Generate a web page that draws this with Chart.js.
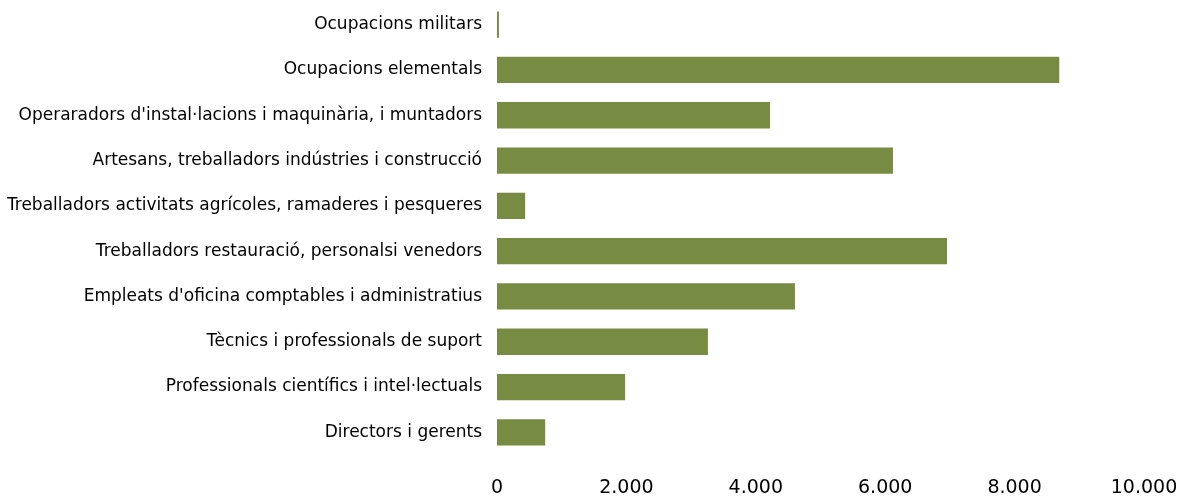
<!DOCTYPE html>
<html>
<head>
<meta charset="utf-8">
<script src="https://cdn.jsdelivr.net/npm/chart.js@4/dist/chart.umd.min.js"></script>
<style>
  html, body { margin: 0; padding: 0; background: #fff; }
  #wrap { width: 1181px; height: 496px; }
</style>
</head>
<body>
<div id="wrap"><canvas id="chart" width="1181" height="496"></canvas></div>
<script>
var categories = [
    'Ocupacions militars',
    'Ocupacions elementals',
    "Operaradors d'instal·lacions i maquinària, i muntadors",
    'Artesans, treballadors indústries i construcció',
    'Treballadors activitats agrícoles, ramaderes i pesqueres',
    'Treballadors restauració, personalsi venedors',
    "Empleats d'oficina comptables i administratius",
    'Tècnics i professionals de suport',
    'Professionals científics i intel·lectuals',
    'Directors i gerents'
];
var values = [30, 8690, 4220, 6120, 435, 6955, 4605, 3260, 1980, 745];
var xTicks = [0, 2000, 4000, 6000, 8000, 10000];

var barColor = '#788b43';

new Chart(document.getElementById('chart').getContext('2d'), {
    type: 'bar',
    data: {
        labels: categories,
        datasets: [{
            data: values,
            backgroundColor: barColor,
            borderWidth: 0,
            categoryPercentage: 1,
            barPercentage: 0.58
        }]
    },
    options: {
        indexAxis: 'y',
        responsive: false,
        animation: false,
        layout: { padding: { top: 2, right: 37, bottom: 0, left: 0 } },
        plugins: { legend: { display: false }, tooltip: { enabled: false } },
        scales: {
            x: {
                min: 0,
                max: 10000,
                afterBuildTicks: function (scale) {
                    scale.ticks = xTicks.map(function (v) { return { value: v }; });
                },
                // fixed axis height, and no extra side padding from the end labels
                afterFit: function (scale) {
                    scale.height = 41;
                    scale.paddingLeft = 0;
                    scale.paddingRight = 0;
                },
                grid: { display: false, drawTicks: false },
                border: { display: false },
                ticks: {
                    padding: 22,
                    color: '#000',
                    font: { family: 'DejaVu Sans', size: 19 },
                    maxRotation: 0,
                    callback: function (v) { return Number(v).toLocaleString('de-DE'); }
                }
            },
            y: {
                afterFit: function (scale) {
                    scale.width = 497;
                    scale.paddingTop = 0;
                    scale.paddingBottom = 0;
                },
                grid: { display: false, drawTicks: false },
                border: { display: false },
                ticks: {
                    padding: 15,
                    color: '#000',
                    font: { family: 'DejaVu Sans', size: 17 }
                }
            }
        }
    }
});
</script>
</body>
</html>
